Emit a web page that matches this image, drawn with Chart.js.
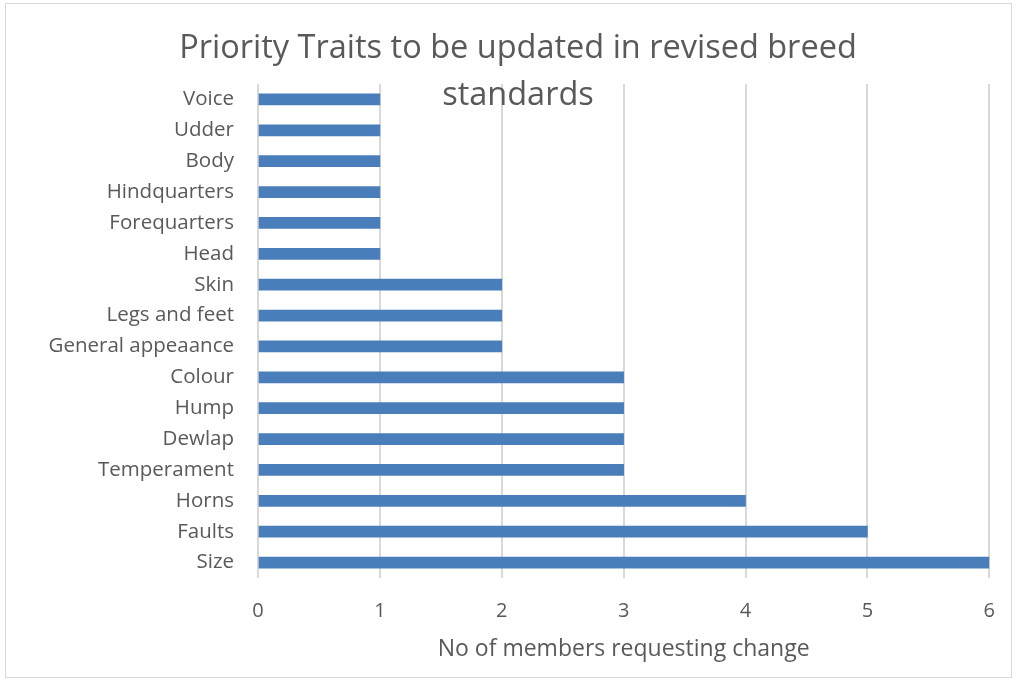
<!DOCTYPE html>
<html>
<head>
<meta charset="utf-8">
<script src="https://cdn.jsdelivr.net/npm/chart.js@4"></script>
<style>
  html, body { margin: 0; padding: 0; background: #fff; }
  #wrap { position: relative; width: 1016px; height: 681px; }
  #frame { position: absolute; left: 5px; top: 3px; width: 1005px; height: 673px; border: 1px solid #d9d9d9; }
</style>
</head>
<body>
<div id="wrap">
  <div id="frame"></div>
  <canvas id="traitsChart" width="1016" height="681"></canvas>
</div>
<script>
const traits = ["Voice", "Udder", "Body", "Hindquarters", "Forequarters", "Head", "Skin",
  "Legs and feet", "General appeaance", "Colour", "Hump", "Dewlap", "Temperament",
  "Horns", "Faults", "Size"];
const memberCounts = [1, 1, 1, 1, 1, 1, 2, 2, 2, 3, 3, 3, 3, 4, 5, 6];
const xTicks = [0, 1, 2, 3, 4, 5, 6];
const titleLines = ["Priority Traits to be updated in revised breed", "standards"];
const xTitle = "No of members requesting change";

const fontFamily = "'Open Sans', Lato, sans-serif";
const textColor = "#595959";

// title sits on top of the plot area, like the original
const titleOverlay = {
  id: "titleOverlay",
  afterDraw(chart) {
    const ctx = chart.ctx;
    ctx.save();
    ctx.font = "32.5px " + fontFamily;
    ctx.fillStyle = textColor;
    ctx.textAlign = "center";
    ctx.textBaseline = "middle";
    ctx.fillText(titleLines[0], 518, 49);
    ctx.fillText(titleLines[1], 518, 96);
    ctx.restore();
  },
};

new Chart(document.getElementById("traitsChart"), {
  type: "bar",
  data: {
    labels: traits,
    datasets: [
      {
        label: "Members",
        data: memberCounts,
        backgroundColor: "#4a7ebb",
        barThickness: 11,
      },
    ],
  },
  options: {
    indexAxis: "y",
    responsive: false,
    animation: false,
    layout: {
      padding: { top: 84, right: 19, left: 0, bottom: 18 },
    },
    plugins: {
      legend: { display: false },
      tooltip: { enabled: false },
      title: { display: false },
    },
    scales: {
      x: {
        min: 0,
        max: 6,
        afterBuildTicks: (scale) => {
          scale.ticks = xTicks.map((v) => ({ value: v }));
        },
        grid: { color: "#d9d9d9", lineWidth: 2, drawTicks: false },
        border: { display: false },
        ticks: {
          color: textColor,
          padding: 21,
          font: { family: fontFamily, size: 20 },
        },
        title: {
          display: true,
          text: xTitle,
          color: textColor,
          font: { family: fontFamily, size: 23 },
          padding: { top: 8, bottom: 0 },
        },
        afterFit: (scale) => {
          scale.height = 85;
        },
      },
      y: {
        grid: { display: false, drawTicks: false },
        border: { display: false },
        ticks: {
          color: textColor,
          padding: 24,
          font: { family: fontFamily, size: 20.5 },
        },
        afterFit: (scale) => {
          scale.width = 258;
        },
      },
    },
  },
  plugins: [titleOverlay],
});
</script>
</body>
</html>
